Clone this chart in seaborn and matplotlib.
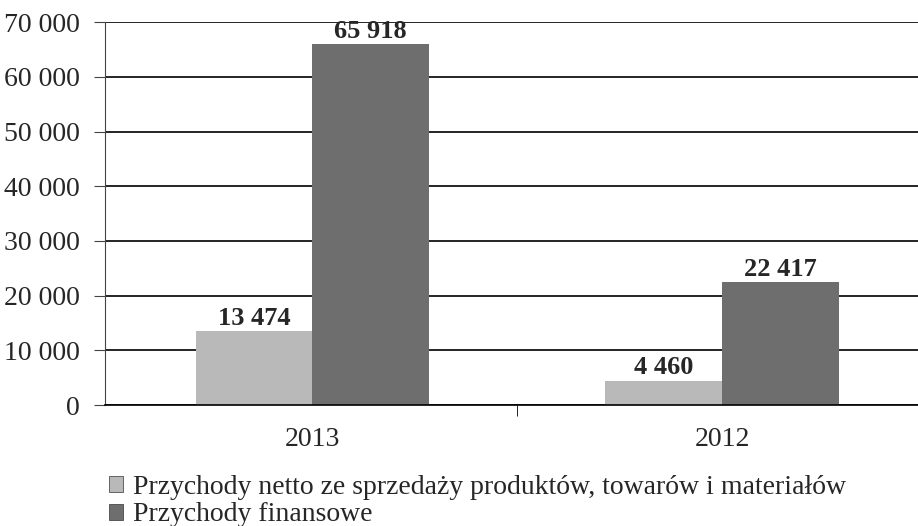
import pandas as pd
import matplotlib.pyplot as plt
import seaborn as sns
from matplotlib.patches import Patch
from matplotlib.ticker import FuncFormatter

years = ["2013", "2012"]
series = ["Przychody netto ze sprzedaży produktów, towarów i materiałów",
          "Przychody finansowe"]
netto = [13474, 4460]
finansowe = [65918, 22417]
yticks = [0, 10000, 20000, 30000, 40000, 50000, 60000, 70000]

df = pd.DataFrame({
    "rok": years * 2,
    "seria": [series[0]] * 2 + [series[1]] * 2,
    "wartosc": netto + finansowe,
})

sns.set_style("white")
plt.rcParams["font.family"] = ["Liberation Serif", "DejaVu Serif"]

colors = ["#b9b9b9", "#6e6e6e"]

fig = plt.figure(figsize=(9.18, 5.26), dpi=100)
ax = fig.add_axes([0.114, 0.23, 0.9, 0.728])

sns.barplot(data=df, x="rok", y="wartosc", hue="seria", order=years,
            hue_order=series, palette=colors, width=0.57, saturation=1,
            edgecolor="none", ax=ax, legend=False)

ax.set_ylim(0, 70000)
ax.set_xlim(-0.507, 1.51)
ax.set_yticks(yticks)
ax.yaxis.set_major_formatter(FuncFormatter(lambda v, p: f"{int(v):,}".replace(",", " ")))
ax.grid(axis="y", color="black", linewidth=1.2)
ax.set_axisbelow(True)
ax.set_xlabel("")
ax.set_ylabel("")
for s in ["top", "right"]:
    ax.spines[s].set_visible(False)
ax.spines["left"].set_color("#444444")
ax.spines["left"].set_linewidth(0.8)
ax.spines["bottom"].set_color("black")
ax.spines["bottom"].set_linewidth(1.2)
ax.tick_params(axis="y", labelsize=20, length=8, left=True, color="#444444", pad=10)
ax.tick_params(axis="x", labelsize=20, length=0, pad=16)
ax.set_xticks([0.5], minor=True)
ax.tick_params(axis="x", which="minor", length=8, bottom=True, color="black")

for cont in ax.containers:
    ax.bar_label(cont, labels=[f"{int(v):,}".replace(",", " ") for v in cont.datavalues],
                 fontsize=19, fontweight="bold", padding=1)

handles = [Patch(facecolor=c, edgecolor="#333333", linewidth=0.5) for c in colors]
fig.legend(handles, series, loc="lower left", bbox_to_anchor=(0.095, -0.045),
           frameon=False, fontsize=20, handlelength=0.5, handleheight=0.5,
           handletextpad=0.35, labelspacing=0.1, borderpad=0.3)

fig.savefig("out.png", dpi=100)
